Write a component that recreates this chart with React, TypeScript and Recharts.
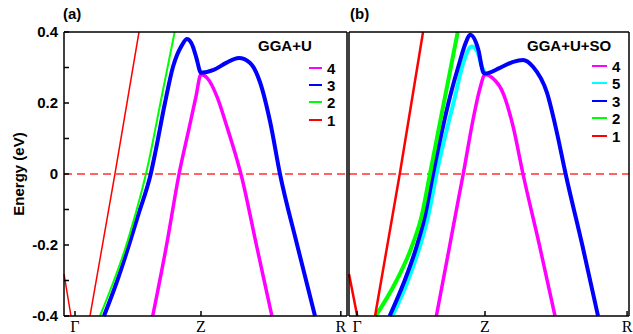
import { LineChart, Line, XAxis, YAxis, ReferenceLine } from "recharts";

const FONT = "'Liberation Sans', Arial, Helvetica, sans-serif";
const SERIF = "'Liberation Serif', 'Times New Roman', serif";

// k-path position (Γ = 0, Z = 1, R = 2.11) and energy ticks
const kTicks = [0, 1, 2.11];
const kNames = ["Γ", "Z", "R"];
const eTicks = [-0.4, -0.3, -0.2, -0.1, 0, 0.1, 0.2, 0.3, 0.4];

// (a) GGA+U bands, [k, E in eV]; null = band leaves the window
const a1 = [[-0.087, -0.282], [-0.032, -0.4], [0.04, null], [0.119, -0.4], [0.317, 0], [0.508, 0.4]];
const a2 = [[0.198, -0.4], [0.304, -0.305], [0.397, -0.212], [0.476, -0.118], [0.563, 0], [0.603, 0.065], [0.678, 0.2], [0.791, 0.4]];
const a3 = [[0.23, -0.4], [0.331, -0.305], [0.418, -0.212], [0.502, -0.115], [0.601, 0], [0.64, 0.065], [0.714, 0.2], [0.778, 0.302], [0.849, 0.363], [0.889, 0.38], [0.937, 0.358], [0.965, 0.325], [1.0, 0.285], [1.1, 0.293], [1.2, 0.313], [1.3, 0.327], [1.39, 0.313], [1.47, 0.257], [1.55, 0.145], [1.627, 0], [1.76, -0.195], [1.905, -0.4]];
const a4 = [[0.617, -0.4], [0.728, -0.198], [0.826, 0], [0.903, 0.125], [0.96, 0.218], [1.0, 0.28], [1.05, 0.27], [1.127, 0.218], [1.206, 0.133], [1.286, 0.04], [1.317, 0], [1.44, -0.2], [1.563, -0.4]];

// (b) GGA+U+SO bands
const b1 = [[-0.0625, -0.282], [0.002, -0.4], [0.07, null], [0.141, -0.4], [0.334, 0], [0.516, 0.4]];
const b2 = [[0.146, -0.4], [0.302, -0.305], [0.42, -0.212], [0.505, -0.118], [0.57, 0], [0.607, 0.069], [0.688, 0.218], [0.787, 0.4]];
const b3 = [[0.255, -0.4], [0.367, -0.305], [0.459, -0.212], [0.531, -0.118], [0.594, 0], [0.727, 0.218], [0.799, 0.312], [0.85, 0.37], [0.883, 0.392], [0.948, 0.35], [0.987, 0.286], [1.0, 0.283], [1.117, 0.299], [1.22, 0.316], [1.297, 0.321], [1.375, 0.302], [1.484, 0.229], [1.562, 0.116], [1.63, 0], [1.76, -0.2], [1.883, -0.4]];
const b4 = [[0.62, -0.4], [0.719, -0.212], [0.797, -0.062], [0.83, 0], [0.905, 0.15], [0.96, 0.24], [1.0, 0.28], [1.06, 0.27], [1.14, 0.229], [1.22, 0.133], [1.297, 0], [1.425, -0.2], [1.547, -0.4]];
const b5 = [[0.276, -0.4], [0.393, -0.305], [0.484, -0.212], [0.557, -0.118], [0.621, 0], [0.766, 0.218], [0.83, 0.312], [0.896, 0.359], [0.94, 0.345], [0.974, 0.303], [1.0, 0.284]];

type Row = (number | null)[];
type Band = { name: string; color: string; width: number; rows: Row[] };

const bandsA: Band[] = [
  { name: "4", color: "#ff00ff", width: 3.5, rows: a4 },
  { name: "3", color: "#0000ff", width: 4, rows: a3 },
  { name: "2", color: "#00ff00", width: 2, rows: a2 },
  { name: "1", color: "#ff0000", width: 1.5, rows: a1 },
];

const bandsB: Band[] = [
  { name: "4", color: "#ff00ff", width: 3.5, rows: b4 },
  { name: "5", color: "#00ffff", width: 4, rows: b5 },
  { name: "3", color: "#0000ff", width: 4, rows: b3 },
  { name: "2", color: "#00ff00", width: 4, rows: b2 },
  { name: "1", color: "#ff0000", width: 2.5, rows: b1 },
];

const toPts = (rows: Row[]) => rows.map(([k, e]) => ({ k, e }));

const eLabel = (v: number) => {
  const n = Math.round(v * 10);
  if (n % 2 !== 0) return "";
  return n === 0 ? "0" : v.toFixed(1);
};

type PanelProps = {
  bands: Band[];
  domain: [number, number];
  width: number;
  yWidth: number;
  right: number;
  labels: boolean;
};

function Panel({ bands, domain, width, yWidth, right, labels }: PanelProps) {
  return (
    <LineChart width={width} height={334} margin={{ top: 31, right, bottom: 0, left: 0 }}>
      <XAxis
        xAxisId="b"
        type="number"
        dataKey="k"
        domain={domain}
        ticks={kTicks}
        interval={0}
        tickFormatter={(v: number) => kNames[kTicks.indexOf(v)] ?? ""}
        height={18}
        tickSize={-5}
        tickMargin={10}
        stroke="#000"
        strokeWidth={1.5}
        tick={{ fontFamily: SERIF, fontSize: 16, fill: "#000", stroke: "none" }}
      />
      <XAxis
        xAxisId="t"
        orientation="top"
        type="number"
        dataKey="k"
        domain={domain}
        ticks={kTicks}
        interval={0}
        height={1}
        tickSize={-5}
        tick={false}
        stroke="#000"
        strokeWidth={1.5}
      />
      <YAxis
        yAxisId="l"
        type="number"
        domain={[-0.4, 0.4]}
        ticks={eTicks}
        interval={0}
        width={yWidth}
        tickSize={-5}
        tickMargin={11}
        tickFormatter={eLabel}
        tick={labels ? { fontFamily: FONT, fontWeight: "bold", fontSize: 15, fill: "#000", stroke: "none" } : false}
        stroke="#000"
        strokeWidth={1.5}
      />
      <YAxis
        yAxisId="r"
        orientation="right"
        type="number"
        domain={[-0.4, 0.4]}
        ticks={eTicks}
        interval={0}
        width={1}
        tickSize={-5}
        tick={false}
        stroke="#000"
        strokeWidth={1.5}
      />
      <ReferenceLine xAxisId="b" yAxisId="l" y={0} stroke="#ff3030" strokeWidth={1.5} strokeDasharray="8 5" />
      {bands.map((b) => (
        <Line
          key={b.name}
          xAxisId="b"
          yAxisId="l"
          data={toPts(b.rows)}
          dataKey="e"
          type="monotone"
          stroke={b.color}
          strokeWidth={b.width}
          dot={false}
          isAnimationActive={false}
        />
      ))}
    </LineChart>
  );
}

function Legend({ title, tx, lx, lw, ys, bands }: { title: string; tx: number; lx: number; lw: number; ys: number[]; bands: Band[] }) {
  return (
    <g fontFamily={FONT} fontWeight="bold" fontSize={15} fill="#000">
      <text x={tx} y={51}>{title}</text>
      {bands.map((b, i) => (
        <g key={b.name}>
          <line x1={lx} x2={lx + lw} y1={ys[i]} y2={ys[i]} stroke={b.color} strokeWidth={2} />
          <text x={lx + lw + 5} y={ys[i] + 5.5}>{b.name}</text>
        </g>
      ))}
    </g>
  );
}

export default function App() {
  return (
    <div style={{ position: "absolute", left: 0, top: 0, width: 633, height: 334, background: "#fff" }}>
      <div style={{ position: "absolute", left: 0, top: 0 }}>
        <Panel bands={bandsA} domain={[-0.0873, 2.159]} width={350} yWidth={64} right={2} labels />
      </div>
      <div style={{ position: "absolute", left: 348, top: 0 }}>
        <Panel bands={bandsB} domain={[-0.0625, 2.125]} width={285} yWidth={1} right={3} labels={false} />
      </div>
      <svg width={633} height={334} style={{ position: "absolute", left: 0, top: 0, pointerEvents: "none" }}>
        <text x={63} y={19} fontFamily={FONT} fontWeight="bold" fontSize={15}>(a)</text>
        <text x={350} y={19} fontFamily={FONT} fontWeight="bold" fontSize={15}>(b)</text>
        <text
          transform="translate(18,174) rotate(-90)"
          textAnchor="middle"
          dominantBaseline="central"
          fontFamily={FONT}
          fontWeight="bold"
          fontSize={15}
        >
          Energy (eV)
        </text>
        <Legend title="GGA+U" tx={258} lx={309} lw={13} ys={[68, 85, 102, 120]} bands={bandsA} />
        <Legend title="GGA+U+SO" tx={527} lx={592} lw={15} ys={[66, 83, 101, 118, 136]} bands={bandsB} />
      </svg>
    </div>
  );
}
